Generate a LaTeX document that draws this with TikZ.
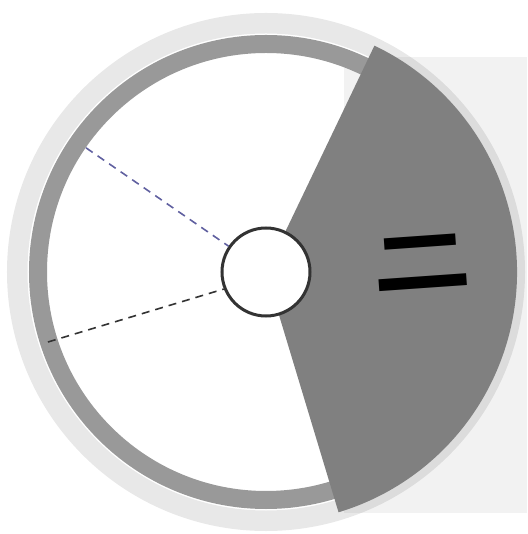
\documentclass[tikz,border=0pt]{standalone}
\usepackage{fontspec}
\newfontfamily\cjk{Noto Sans CJK SC}
\usetikzlibrary{positioning,calc}
\definecolor{wheelpale}{RGB}{242,242,242}
\definecolor{wheelrim}{RGB}{153,153,153}
\definecolor{wheelwedge}{RGB}{128,128,128}
\definecolor{wheeldark}{RGB}{51,51,51}
\definecolor{wheelblue}{RGB}{96,96,160}

\begin{document}
\begin{tikzpicture}[
  x=1pt, y=1pt,
  panel/.style={fill=wheelpale},
  halo/.style={fill=black, fill opacity=0.09, even odd rule},
  rim/.style={fill=wheelrim, even odd rule},
  wedge/.style={fill=wheelwedge},
  hub/.style={circle, draw=wheeldark, line width=3pt, fill=white, minimum size=88pt, inner sep=0pt},
  spoke/.style={dashed, line width=1.6pt, dash pattern=on 8pt off 6pt},
  glyph/.style={font=\cjk\bfseries\fontsize{98}{98}\selectfont, text=black, inner sep=0pt}
]
\useasboundingbox (-266,-262) rectangle (261,272);

% Background
\fill[panel] (78,215) rectangle (261,-241);

% Outer rings
\fill[halo] (0,0) circle (259) (0,0) circle (238.5);
\fill[rim] (0,0) circle (237) (0,0) circle (219);

% Highlighted sector
\fill[wedge] (0,0) -- (64.4:251) arc (64.4:-73.2:251) -- cycle;

% Hub and spokes
\node[hub] (hub) at (0,0) {};
\coordinate (upper) at (145.4:218.6);
\coordinate (lower) at (197.8:229);
\draw[spoke, wheelblue] (upper) -- (hub);
\draw[spoke, wheeldark] (lower) -- (hub.202);

% Label
\node[glyph, rotate=4, yscale=0.72] (num) at (156,10) {二};

\end{tikzpicture}
\end{document}
